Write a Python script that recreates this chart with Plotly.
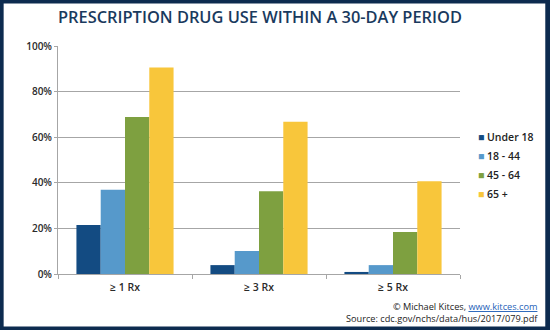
import plotly.graph_objects as go

# Share of people using prescription drugs in a 30-day window, by age group
categories = ["≥ 1 Rx", "≥ 3 Rx", "≥ 5 Rx"]
age_groups = ["Under 18", "18 - 44", "45 - 64", "65 +"]
under_18 = [21.5, 3.9, 0.9]
age_18_44 = [36.9, 10.1, 3.9]
age_45_64 = [68.9, 36.3, 18.4]
age_65_plus = [90.6, 66.8, 40.7]

series = [under_18, age_18_44, age_45_64, age_65_plus]
colors = ["#134b82", "#5699cb", "#7ea040", "#f8c63b"]

W, H = 550, 330
L, R, T, B = 58, 89, 46, 56
NAVY = "#0d2b4f"
FONT = "Open Sans"

fig = go.Figure()
for name, vals, col in zip(age_groups, series, colors):
    fig.add_trace(go.Bar(
        x=categories, y=vals, name=name, marker=dict(color=col, line=dict(width=0)),
        showlegend=False,
    ))
# legend entries: small colored squares written inline with the label
for name, col in zip(age_groups, colors):
    fig.add_trace(go.Scatter(
        x=[None], y=[None], mode="markers",
        marker=dict(color="rgba(0,0,0,0)", size=1),
        name=f"<span style='color:{col}'>■</span> {name}",
    ))

pw = W - L - R
ph = H - T - B

fig.update_layout(
    width=W, height=H,
    margin=dict(l=L, r=R, t=T, b=B),
    paper_bgcolor="white", plot_bgcolor="white",
    barmode="group", bargap=0.275, bargroupgap=0,
    title=dict(
        text="PRESCRIPTION DRUG USE WITHIN A 30-DAY PERIOD",
        x=(260.5 - L) / pw, xref="paper", xanchor="center", y=1 - 17 / H, yanchor="middle",
        font=dict(family=FONT, size=16.4, color="#1a3a5e", weight=600),
    ),
    font=dict(family=FONT, color="#2a2a2a"),
    legend=dict(
        x=(438 - L) / pw, xanchor="left", y=(274 - 122) / ph, yanchor="top",
        font=dict(family=FONT, size=10.5, color="#222", weight=600),
        tracegroupgap=0, itemsizing="constant", bgcolor="rgba(0,0,0,0)",
    ),
    xaxis=dict(
        showline=True, linecolor="#a6a6a6", linewidth=1,
        ticks="outside", tickson="boundaries", ticklen=4, tickcolor="#a6a6a6",
        tickfont=dict(size=10.5, color="#2a2a2a", weight=600),
        ticklabelstandoff=3,
        showgrid=False,
    ),
    yaxis=dict(
        range=[0, 100], tick0=0, dtick=20, ticksuffix="%",
        showline=True, linecolor="#a6a6a6", linewidth=1,
        ticks="outside", ticklen=3, tickcolor="#a6a6a6",
        gridcolor="#a6a6a6", gridwidth=1, zeroline=False,
        tickfont=dict(size=10, color="#2a2a2a", weight=600),
    ),
    annotations=[dict(
        xref="paper", yref="paper",
        x=(541 - L) / pw, y=(274 - 298) / ph, xanchor="right", yanchor="top",
        align="right", showarrow=False,
        text="© Michael Kitces, <span style='color:#1f5fb8'><u>www.kitces.com</u></span><br>"
             "Source: cdc.gov/nchs/data/hus/2017/079.pdf",
        font=dict(family=FONT, size=9.2, color="#222"),
    )],
    shapes=[dict(
        type="rect", xref="paper", yref="paper",
        x0=-L / pw, x1=(W - L) / pw, y0=-B / ph, y1=(H - B) / ph,
        line=dict(color=NAVY, width=7), fillcolor="rgba(0,0,0,0)", layer="above",
    )],
)

fig.write_html("out.html")
